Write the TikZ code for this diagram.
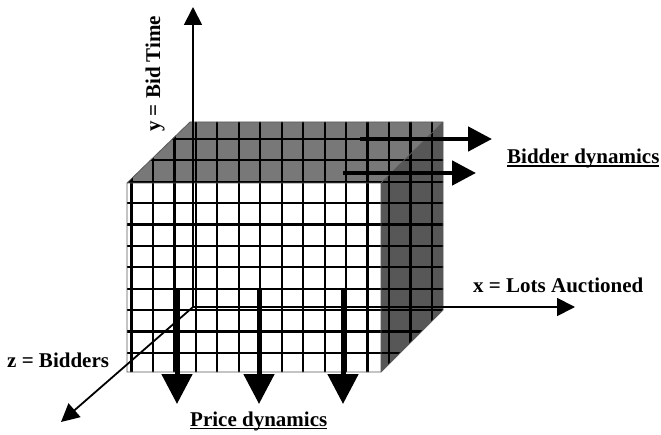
\documentclass[tikz,border=0pt]{standalone}
\usepackage{fontspec}
\setmainfont{Liberation Serif}
\usetikzlibrary{arrows.meta}
\definecolor{topgray}{gray}{0.47}
\definecolor{sidegray}{gray}{0.34}
\newcommand\ulbox[1]{\setbox0\hbox{#1}\rlap{\rule[-3pt]{\wd0}{1.5pt}}\box0}
\begin{document}
\begin{tikzpicture}[x=1pt,y=-1pt,
  lbl/.style={font=\bfseries\fontsize{21}{24}\selectfont, inner sep=0pt},
  gridline/.style={line width=2.2pt, black},
  edge/.style={draw=gray!70!black, line width=0.8pt},
  axis/.style={line width=1.8pt, -{Triangle[length=18pt,width=18pt]}},
  bigarrow/.style={line width=4.8pt, -{Triangle[length=24pt,width=24pt]}},
  pricearrow/.style={line width=5pt, -{Triangle[length=30pt,width=30pt]}}]
\useasboundingbox (0,0) rectangle (661,435);
% cube corners
\coordinate (A) at (127,183);
\coordinate (B) at (381,183);
\coordinate (C) at (381,372);
\coordinate (D) at (127,372);
\coordinate (E) at (190,122);
\coordinate (F) at (443,122);
\coordinate (G) at (443,310);
% faces
\fill[white] (A)--(B)--(C)--(D)--cycle;
\fill[topgray] (A)--(E)--(F)--(B)--cycle;
\fill[sidegray] (B)--(F)--(G)--(C)--cycle;
% grid
\begin{scope}
\clip (A)--(E)--(F)--(G)--(C)--(D)--cycle;
\foreach \k in {0,...,14} \draw[gridline] ({131.5+21.46*\k},100) -- ++(0,300);
\foreach \j in {0,...,10} \draw[gridline] (100,{139+21.4*\j}) -- ++(400,0);
\end{scope}
\draw[edge] (A)--(E)--(F)--(G)--(C)--(D)--cycle (A)--(B)--(C) (B)--(F);
% axes
\coordinate (O) at (193,307);
\coordinate (Ytip) at (193,7);
\coordinate (Xtip) at (575,307);
\coordinate (Ztip) at (61,422);
\draw[axis] (O) -- (Ytip);
\draw[axis] (O) -- (Xtip);
\draw[axis] (O) -- (Ztip);
% bidder dynamics arrows
\coordinate (b1s) at (360,139); \coordinate (b1e) at (492,139);
\coordinate (b2s) at (343,173); \coordinate (b2e) at (476,173);
\draw[bigarrow] (b1s) -- (b1e);
\draw[bigarrow] (b2s) -- (b2e);
% price dynamics arrows
\coordinate (p1s) at (177,288); \coordinate (p1e) at (177,404);
\coordinate (p2s) at (259,288); \coordinate (p2e) at (259,404);
\coordinate (p3s) at (343,288); \coordinate (p3e) at (343,404);
\draw[pricearrow] (p1s) -- (p1e);
\draw[pricearrow] (p2s) -- (p2e);
\draw[pricearrow] (p3s) -- (p3e);
% labels
\node[lbl, anchor=base west] (bidlbl) at (507,164) {\ulbox{Bidder dynamics}};
\node[lbl, anchor=base west] (pricelbl) at (190,426) {\ulbox{Price dynamics}};
\node[lbl, anchor=base west] (xlbl) at (473,293) {x = Lots Auctioned};
\node[lbl, anchor=base west] (zlbl) at (7,367) {z = Bidders};
\node[lbl, anchor=base west, rotate=90] (ylbl) at (160,132) {y = Bid Time};
\end{tikzpicture}
\end{document}
